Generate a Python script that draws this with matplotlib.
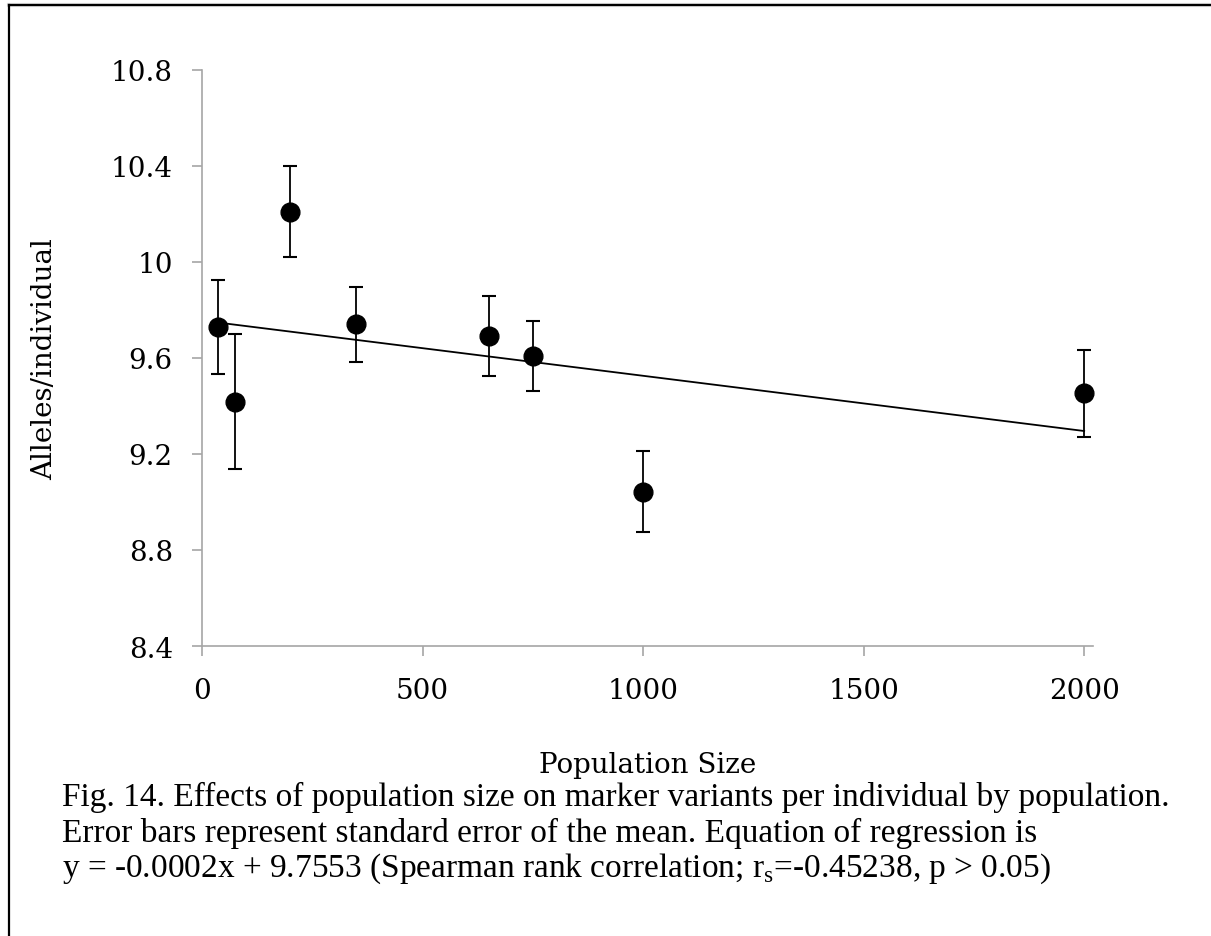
import matplotlib
matplotlib.use('Agg')
import matplotlib.pyplot as plt
from matplotlib.lines import Line2D
import numpy as np

# population size vs. mean alleles per individual
pop_size = [37, 75, 200, 350, 650, 750, 1000, 2000]
alleles  = [9.729, 9.417, 10.208, 9.739, 9.692, 9.608, 9.042, 9.453]
sem      = [0.196, 0.281, 0.190, 0.158, 0.167, 0.145, 0.168, 0.181]

# regression line y = slope*x + intercept
slope = -0.00023
intercept = 9.7553

y_ticks = [8.4, 8.8, 9.2, 9.6, 10.0, 10.4, 10.8]
y_tick_labels = ['8.4', '8.8', '9.2', '9.6', '10', '10.4', '10.8']
x_ticks = [0, 500, 1000, 1500, 2000]

caption = ['Fig. 14. Effects of population size on marker variants per individual by population.',
           'Error bars represent standard error of the mean. Equation of regression is',
           r'y = -0.0002x + 9.7553 (Spearman rank correlation; r$_\mathrm{s}$=-0.45238, p > 0.05)']

plt.rcParams['mathtext.fontset'] = 'custom'
plt.rcParams['mathtext.rm'] = 'Liberation Serif'

axis_grey = '#A6A6A6'
axis_font = 'DejaVu Serif'

fig = plt.figure(figsize=(12.11, 9.37), dpi=100)
ax = fig.add_axes([202/1211, 1 - 647/937, 891/1211, (647 - 70.7)/937])

# regression line first so the points sit on top
xr = np.array([min(pop_size), max(pop_size)])
ax.plot(xr, slope * xr + intercept, color='black', lw=1.3, zorder=2)

ax.errorbar(pop_size, alleles, yerr=sem, fmt='o', color='black', ms=13.5,
            ecolor='black', elinewidth=1.3, capsize=5, capthick=1.5,
            zorder=3, clip_on=False)

ax.set_xlim(0, 2020)
ax.set_ylim(8.4, 10.8)
ax.set_xticks(x_ticks)
ax.set_yticks(y_ticks)
ax.set_yticklabels(y_tick_labels)

for s in ['top', 'right']:
    ax.spines[s].set_visible(False)
for s in ['left', 'bottom']:
    ax.spines[s].set_color(axis_grey)
    ax.spines[s].set_linewidth(1.2)

ax.tick_params(axis='both', direction='out', length=7, width=1.2, color=axis_grey,
               labelsize=20, labelcolor='black')
ax.tick_params(axis='y', pad=14)
ax.tick_params(axis='x', pad=15)
for lab in ax.get_xticklabels() + ax.get_yticklabels():
    lab.set_fontfamily(axis_font)

ax.set_xlabel('Population Size', fontsize=20, fontfamily=axis_font, labelpad=34)
ax.set_ylabel('Alleles/individual', fontsize=20, fontfamily=axis_font, labelpad=38)

# figure caption underneath, Times-like
for i, line in enumerate(caption):
    fig.text(62/1211, 1 - (797 + 36*i)/937, line, fontsize=24,
             fontfamily='Liberation Serif', va='center', ha='left')

# frame of the page (top and left edge only)
fig.add_artist(Line2D([9/1211, 1], [1 - 6/937, 1 - 6/937], color='#DDDDDD', lw=3,
                      transform=fig.transFigure))
fig.add_artist(Line2D([9/1211, 1], [1 - 6/937, 1 - 6/937], color='black', lw=1.6,
                      transform=fig.transFigure))
fig.add_artist(Line2D([9/1211, 9/1211], [0, 1 - 6/937], color='black', lw=1.6,
                      transform=fig.transFigure))

fig.savefig('out.png', dpi=100)
